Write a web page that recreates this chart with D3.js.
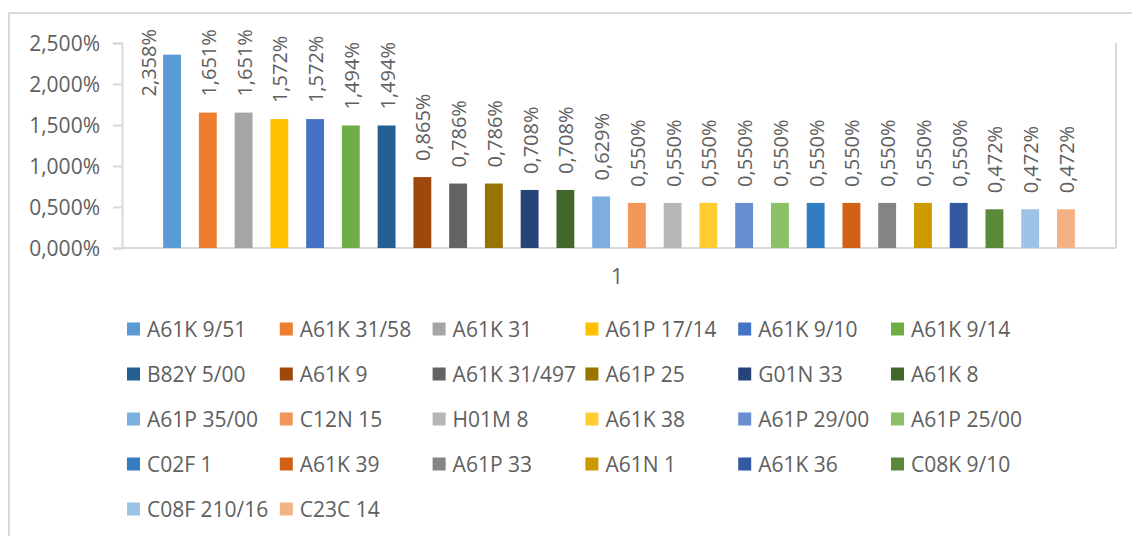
<!DOCTYPE html>
<html>
<head>
<meta charset="utf-8">
<script src="https://cdn.jsdelivr.net/npm/d3@7"></script>
<style>
  html, body { margin: 0; padding: 0; background: #fff; }
  svg { display: block; }
  text { font-family: "Open Sans", "Noto Sans", sans-serif; fill: #606060; }
</style>
</head>
<body>
<svg id="chart" width="1132" height="536"></svg>
<script>
// IPC classification codes and their share of patents (%)
const categories = [
  "A61K 9/51", "A61K 31/58", "A61K 31", "A61P 17/14", "A61K 9/10", "A61K 9/14",
  "B82Y 5/00", "A61K 9", "A61K 31/497", "A61P 25", "G01N 33", "A61K 8",
  "A61P 35/00", "C12N 15", "H01M 8", "A61K 38", "A61P 29/00", "A61P 25/00",
  "C02F 1", "A61K 39", "A61P 33", "A61N 1", "A61K 36", "C08K 9/10",
  "C08F 210/16", "C23C 14"
];
const values = [
  2.358, 1.651, 1.651, 1.572, 1.572, 1.494,
  1.494, 0.865, 0.786, 0.786, 0.708, 0.708,
  0.629, 0.550, 0.550, 0.550, 0.550, 0.550,
  0.550, 0.550, 0.550, 0.550, 0.550, 0.472,
  0.472, 0.472
];
const colors = [
  "#5B9BD5", "#ED7D31", "#A5A5A5", "#FFC000", "#4472C4", "#70AD47",
  "#255E91", "#9E480E", "#636363", "#997300", "#264478", "#43682B",
  "#7CAFDD", "#F1975A", "#B7B7B7", "#FFCD33", "#698ED0", "#8CC168",
  "#327DC2", "#D26012", "#848484", "#CC9A00", "#335AA1", "#5A8A39",
  "#9DC3E6", "#F4B183"
];
const yTicks = [0, 0.5, 1, 1.5, 2, 2.5];
const groupLabel = "1";

const fmt = v => v.toFixed(3).replace(".", ",") + "%";

const svg = d3.select("#chart");
const plot = { left: 122, right: 1116, top: 43, bottom: 248 };
const axisColor = "#D9D9D9";
const fontSize = 21;

// outer chart frame
svg.append("rect")
  .attr("x", 9).attr("y", 13)
  .attr("width", 1140).attr("height", 540)
  .attr("fill", "none").attr("stroke", axisColor).attr("stroke-width", 2);

const x = d3.scaleBand()
  .domain(categories)
  .range([plot.left, plot.right])
  .paddingInner(0.5)
  .paddingOuter(1.15);

const y = d3.scaleLinear().domain([0, 2.5]).range([plot.bottom, plot.top]);

// value axis with outside tick marks
const yAxis = svg.append("g")
  .attr("transform", `translate(${plot.left},0)`)
  .call(d3.axisLeft(y).tickValues(yTicks).tickFormat(fmt).tickSize(9).tickPadding(13));
yAxis.select(".domain").attr("stroke", axisColor).attr("stroke-width", 2);
yAxis.selectAll(".tick line").attr("stroke", axisColor).attr("stroke-width", 2);
yAxis.selectAll(".tick text")
  .attr("font-size", fontSize)
  .attr("font-family", null)
  .attr("fill", null)
  .attr("dy", "0.35em");

// right frame and baseline
svg.append("line")
  .attr("x1", plot.right).attr("x2", plot.right)
  .attr("y1", plot.top).attr("y2", plot.bottom)
  .attr("stroke", axisColor).attr("stroke-width", 2);
svg.append("line")
  .attr("x1", plot.left).attr("x2", plot.right)
  .attr("y1", y(0)).attr("y2", y(0))
  .attr("stroke", axisColor).attr("stroke-width", 2);

// bars
svg.append("g").selectAll("rect")
  .data(categories)
  .join("rect")
  .attr("x", d => x(d))
  .attr("y", (d, i) => y(values[i]))
  .attr("width", x.bandwidth())
  .attr("height", (d, i) => y(0) - y(values[i]))
  .attr("fill", (d, i) => colors[i]);

// rotated value labels above each bar
const labelTopLimit = 29;
const labels = svg.append("g").selectAll("text")
  .data(categories)
  .join("text")
  .attr("font-size", 20)
  .attr("text-anchor", "start")
  .text((d, i) => fmt(values[i]));
labels.each(function (d, i) {
  const len = this.getComputedTextLength();
  const cx = x(d) + x.bandwidth() / 2;
  let startY = y(values[i]) - 16;
  let bx = cx + 8;
  if (startY - len < labelTopLimit) {
    // not enough room above: move beside the bar
    startY = labelTopLimit + len;
    bx = x(d) - 7;
  }
  d3.select(this).attr("transform", `translate(${bx},${startY}) rotate(-90)`);
});

// category label
svg.append("text")
  .attr("x", (plot.left + plot.right) / 2 - 2)
  .attr("y", 284)
  .attr("text-anchor", "middle")
  .attr("font-size", fontSize)
  .text(groupLabel);

// legend: 6 columns
const legend = svg.append("g");
const colStep = 152.8, rowStep = 45, legX = 127, legY = 329;
const items = legend.selectAll("g")
  .data(categories)
  .join("g")
  .attr("transform", (d, i) => `translate(${legX + (i % 6) * colStep},${legY + Math.floor(i / 6) * rowStep})`);
items.append("rect")
  .attr("x", 0).attr("y", -6.5)
  .attr("width", 13).attr("height", 13)
  .attr("fill", (d, i) => colors[i]);
items.append("text")
  .attr("x", 20).attr("y", 7.5)
  .attr("font-size", fontSize)
  .text(d => d);
</script>
</body>
</html>
